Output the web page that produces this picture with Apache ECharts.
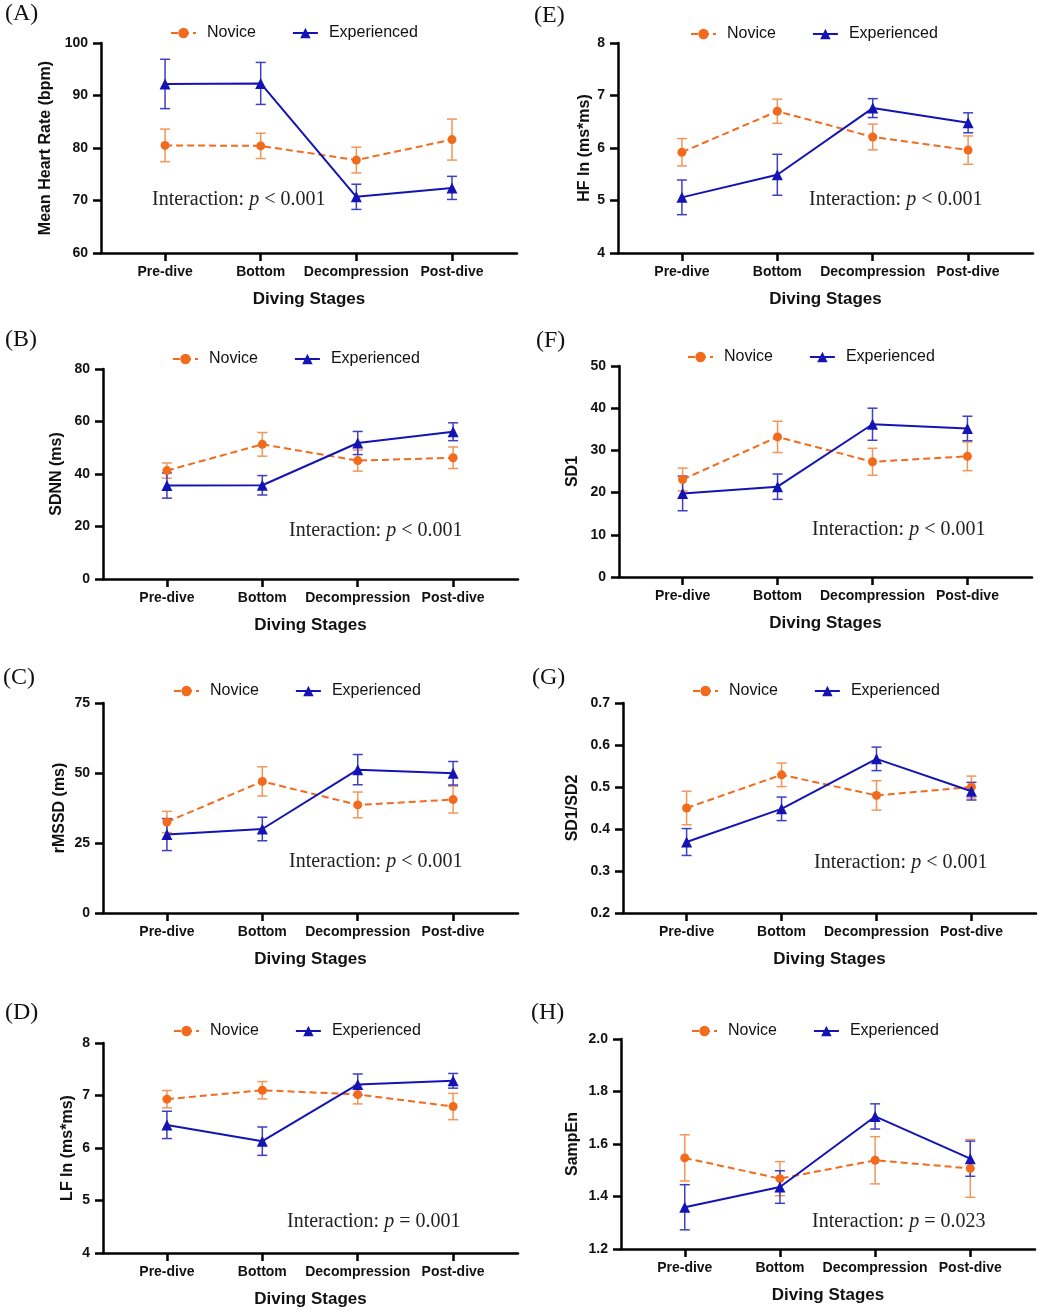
<!DOCTYPE html>
<html>
<head>
<meta charset="utf-8">
<title>Diving stages HRV</title>
<script src="https://cdn.jsdelivr.net/npm/echarts@6/dist/echarts.min.js"></script>
<style>
    html, body { margin: 0; padding: 0; background: #fff; }
    #chart { width: 1045px; height: 1315px; }
</style>
</head>
<body>
<div id="chart"></div>
<script type="text/javascript">
    // x categories
    var stages = ['Pre-dive', 'Bottom', 'Decompression', 'Post-dive'];

    // (A) mean heart rate, bpm  (mean / SEM)
    var hrNovice = [80.5, 80.4, 77.7, 81.6];
    var hrNoviceErr = [3.1, 2.4, 2.45, 3.9];
    var hrExp = [92.2, 92.3, 70.7, 72.4];
    var hrExpErr = [4.7, 4.0, 2.4, 2.2];
    var hrTicks = [60, 70, 80, 90, 100];

    // (B) SDNN, ms
    var sdnnNovice = [41.3, 51.3, 45.1, 46.2];
    var sdnnNoviceErr = [2.9, 4.5, 4.0, 4.1];
    var sdnnExp = [35.6, 35.7, 51.8, 56.1];
    var sdnnExpErr = [4.8, 3.7, 4.4, 3.4];
    var sdnnTicks = [0, 20, 40, 60, 80];

    // (C) rMSSD, ms
    var rmssdNovice = [32.5, 47.0, 38.6, 40.5];
    var rmssdNoviceErr = [3.8, 5.2, 4.6, 4.8];
    var rmssdExp = [28.0, 30.0, 51.2, 49.9];
    var rmssdExpErr = [5.7, 4.2, 5.4, 4.2];
    var rmssdTicks = [0, 25, 50, 75];

    // (D) LF ln, ms*ms
    var lfNovice = [6.93, 7.10, 7.02, 6.79];
    var lfNoviceErr = [0.165, 0.165, 0.18, 0.25];
    var lfExp = [6.44, 6.13, 7.21, 7.28];
    var lfExpErr = [0.26, 0.27, 0.2, 0.14];
    var lfTicks = [4, 5, 6, 7, 8];

    // (E) HF ln, ms*ms
    var hfNovice = [5.92, 6.70, 6.21, 5.96];
    var hfNoviceErr = [0.26, 0.23, 0.245, 0.27];
    var hfExp = [5.06, 5.49, 6.76, 6.48];
    var hfExpErr = [0.33, 0.39, 0.18, 0.19];
    var hfTicks = [4, 5, 6, 7, 8];

    // (F) SD1
    var sd1Novice = [23.1, 33.2, 27.3, 28.6];
    var sd1NoviceErr = [2.7, 3.7, 3.2, 3.4];
    var sd1Exp = [19.8, 21.4, 36.2, 35.2];
    var sd1ExpErr = [4.1, 3.0, 3.8, 2.9];
    var sd1Ticks = [0, 10, 20, 30, 40, 50];

    // (G) SD1/SD2
    var ratioNovice = [0.45, 0.529, 0.48, 0.50];
    var ratioNoviceErr = [0.04, 0.028, 0.035, 0.026];
    var ratioExp = [0.369, 0.448, 0.567, 0.49];
    var ratioExpErr = [0.032, 0.028, 0.028, 0.021];
    var ratioTicks = [0.2, 0.3, 0.4, 0.5, 0.6, 0.7];

    // (H) SampEn
    var sampNovice = [1.547, 1.468, 1.538, 1.507];
    var sampNoviceErr = [0.088, 0.065, 0.09, 0.11];
    var sampExp = [1.359, 1.436, 1.705, 1.544];
    var sampExpErr = [0.086, 0.062, 0.048, 0.067];
    var sampTicks = [1.2, 1.4, 1.6, 1.8, 2.0];

    var ORANGE = '#F26B1D', ORANGE_ERR = '#F2965A';
    var BLUE = '#1414B4', BLUE_ERR = '#3F3FC2';
    var SANS = 'Liberation Sans, Arial, sans-serif';
    var SERIF = 'Liberation Serif, Times New Roman, serif';

    // panel table: data refs + where each panel sits on the page
    var panels = [
        {tag: '(A)', yName: 'Mean Heart Rate (bpm)', nov: hrNovice, novErr: hrNoviceErr, exp: hrExp, expErr: hrExpErr, ticks: hrTicks, dec: 0, p: '< 0.001',
            grid: [101, 43, 416, 210], legend: [170, 33], letter: [5, 15], note: [152, 200], nameGap: 47},
        {tag: '(B)', yName: 'SDNN (ms)', nov: sdnnNovice, novErr: sdnnNoviceErr, exp: sdnnExp, expErr: sdnnExpErr, ticks: sdnnTicks, dec: 0, p: '< 0.001',
            grid: [103, 369, 415, 210], legend: [172, 359], letter: [5, 341], note: [289, 531], nameGap: 38},
        {tag: '(C)', yName: 'rMSSD (ms)', nov: rmssdNovice, novErr: rmssdNoviceErr, exp: rmssdExp, expErr: rmssdExpErr, ticks: rmssdTicks, dec: 0, p: '< 0.001',
            grid: [103, 703, 415, 210], legend: [173, 691], letter: [3, 679], note: [289, 862], nameGap: 35},
        {tag: '(D)', yName: 'LF ln (ms*ms)', nov: lfNovice, novErr: lfNoviceErr, exp: lfExp, expErr: lfExpErr, ticks: lfTicks, dec: 0, p: '= 0.001',
            grid: [103, 1043, 415, 210], legend: [173, 1031], letter: [5, 1014], note: [287, 1222], nameGap: 27},
        {tag: '(E)', yName: 'HF ln (ms*ms)', nov: hfNovice, novErr: hfNoviceErr, exp: hfExp, expErr: hfExpErr, ticks: hfTicks, dec: 0, p: '< 0.001',
            grid: [618, 43, 415, 210], legend: [690, 34], letter: [534, 17], note: [809, 200], nameGap: 25},
        {tag: '(F)', yName: 'SD1', nov: sd1Novice, novErr: sd1NoviceErr, exp: sd1Exp, expErr: sd1ExpErr, ticks: sd1Ticks, dec: 0, p: '< 0.001',
            grid: [619, 366, 413, 211], legend: [687, 357], letter: [536, 342], note: [812, 530], nameGap: 38},
        {tag: '(G)', yName: 'SD1/SD2', nov: ratioNovice, novErr: ratioNoviceErr, exp: ratioExp, expErr: ratioExpErr, ticks: ratioTicks, dec: 1, p: '< 0.001',
            grid: [623, 703, 413, 210], legend: [692, 691], letter: [532, 679], note: [814, 863], nameGap: 42},
        {tag: '(H)', yName: 'SampEn', nov: sampNovice, novErr: sampNoviceErr, exp: sampExp, expErr: sampExpErr, ticks: sampTicks, dec: 1, p: '= 0.023',
            grid: [621, 1039, 414, 210], legend: [691, 1031], letter: [531, 1014], note: [812, 1222], nameGap: 40}
    ];

    function points(vals) {
        return vals.map(function (v, i) { return [i, v]; });
    }
    function errPoints(vals, errs) {
        return vals.map(function (v, i) { return [i, v - errs[i], v + errs[i]]; });
    }
    function errRender(color) {
        return function (params, api) {
            var x = api.value(0);
            var top = api.coord([x, api.value(2)]);
            var bot = api.coord([x, api.value(1)]);
            var w = 5;
            var st = {stroke: color, lineWidth: 1.5};
            return {
                type: 'group',
                children: [
                    {type: 'line', shape: {x1: top[0], y1: top[1], x2: bot[0], y2: bot[1]}, style: st},
                    {type: 'line', shape: {x1: top[0] - w, y1: top[1], x2: top[0] + w, y2: top[1]}, style: st},
                    {type: 'line', shape: {x1: bot[0] - w, y1: bot[1], x2: bot[0] + w, y2: bot[1]}, style: st}
                ]
            };
        };
    }

    var option = {
        backgroundColor: '#fff',
        animation: false,
        grid: [], xAxis: [], yAxis: [], series: [], legend: [], title: []
    };

    panels.forEach(function (pn, k) {
        option.grid.push({left: pn.grid[0], top: pn.grid[1], width: pn.grid[2], height: pn.grid[3], containLabel: false});
        option.xAxis.push({
            type: 'value', gridIndex: k, min: -0.67, max: 3.68,
            name: 'Diving Stages', nameLocation: 'middle', nameGap: 38,
            nameTextStyle: {fontFamily: SANS, fontWeight: 'bold', fontSize: 17, color: '#111'},
            axisLine: {onZero: false, lineStyle: {color: '#000', width: 2.5}},
            axisTick: {show: true, length: 8, lineStyle: {color: '#000', width: 2.5}, customValues: [0, 1, 2, 3]},
            axisLabel: {
                margin: 12, fontFamily: SANS, fontWeight: 'bold', fontSize: 14, color: '#111',
                customValues: [0, 1, 2, 3],
                formatter: function (v) { return stages[Math.round(v)]; }
            },
            splitLine: {show: false}
        });
        var t = pn.ticks;
        option.yAxis.push({
            type: 'value', gridIndex: k, min: t[0], max: t[t.length - 1], interval: t[1] - t[0],
            name: pn.yName, nameLocation: 'middle', nameGap: pn.nameGap, nameRotate: 90,
            nameTextStyle: {fontFamily: SANS, fontWeight: 'bold', fontSize: 16, color: '#111'},
            axisLine: {show: true, onZero: false, lineStyle: {color: '#000', width: 2.5}},
            axisTick: {show: true, length: 8, lineStyle: {color: '#000', width: 2.5}},
            axisLabel: {
                margin: 13, fontFamily: SANS, fontWeight: 'bold', fontSize: 14, color: '#111',
                formatter: function (v) { return v.toFixed(pn.dec); }
            },
            splitLine: {show: false}
        });

        option.series.push({
            name: 'Novice SEM', type: 'custom', xAxisIndex: k, yAxisIndex: k, z: 2,
            renderItem: errRender(ORANGE_ERR), encode: {x: 0, y: [1, 2]},
            data: errPoints(pn.nov, pn.novErr)
        });
        option.series.push({
            name: 'Experienced SEM', type: 'custom', xAxisIndex: k, yAxisIndex: k, z: 2,
            renderItem: errRender(BLUE_ERR), encode: {x: 0, y: [1, 2]},
            data: errPoints(pn.exp, pn.expErr)
        });
        option.series.push({
            name: 'Novice', type: 'line', xAxisIndex: k, yAxisIndex: k, z: 3,
            symbol: 'circle', symbolSize: 9,
            lineStyle: {color: ORANGE, width: 2, type: [7, 4]},
            itemStyle: {color: ORANGE},
            data: points(pn.nov)
        });
        option.series.push({
            name: 'Experienced', type: 'line', xAxisIndex: k, yAxisIndex: k, z: 4,
            symbol: 'triangle', symbolSize: 11,
            lineStyle: {color: BLUE, width: 2},
            itemStyle: {color: BLUE},
            data: points(pn.exp)
        });

        option.legend.push({
            data: ['Novice', 'Experienced'],
            left: pn.legend[0], top: pn.legend[1] - 8,
            padding: 0, itemGap: 36, itemWidth: 25, itemHeight: 13,
            textStyle: {fontFamily: SANS, fontSize: 16, color: '#111', padding: [0, 0, 0, 6]}
        });

        option.title.push({
            text: pn.tag, left: pn.letter[0], top: pn.letter[1] - 13, padding: 0,
            textStyle: {fontFamily: SERIF, fontWeight: 'normal', fontSize: 24, color: '#111'}
        });
        option.title.push({
            text: '{a|Interaction: }{i|p}{a| ' + pn.p + '}',
            left: pn.note[0], top: pn.note[1] - 12, padding: 0,
            textStyle: {
                fontWeight: 'normal',
                rich: {
                    a: {fontFamily: SERIF, fontSize: 20, fontWeight: 'normal', color: '#222', lineHeight: 24},
                    i: {fontFamily: SERIF, fontSize: 20, fontWeight: 'normal', fontStyle: 'italic', color: '#222', lineHeight: 24}
                }
            }
        });
    });

    var myChart = echarts.init(document.getElementById('chart'));
    myChart.setOption(option, true);
</script>
</body>
</html>
